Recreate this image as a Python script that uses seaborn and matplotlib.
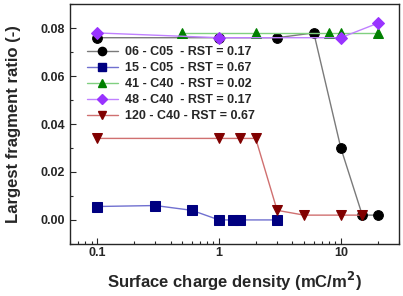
import matplotlib
matplotlib.use("Agg")
import matplotlib.pyplot as plt
import seaborn as sns
import pandas as pd

sns.set_style("ticks")
plt.rcParams['font.family'] = ['Liberation Sans', 'DejaVu Sans']
plt.rcParams['font.weight'] = 'bold'

labels = ["06 - C05  - RST = 0.17", "15 - C05  - RST = 0.67", "41 - C40  - RST = 0.02",
          "48 - C40  - RST = 0.17", "120 - C40 - RST = 0.67"]
x_06 = [0.1, 1, 3, 6, 10, 15, 20]
y_06 = [0.076, 0.076, 0.076, 0.078, 0.030, 0.002, 0.002]
x_15 = [0.1, 0.3, 0.6, 1, 1.3, 1.5, 3]
y_15 = [0.0056, 0.006, 0.004, 0.0, 0.0, 0.0, 0.0]
x_41 = [0.5, 2, 8, 10, 20]
y_41 = [0.078, 0.078, 0.078, 0.078, 0.078]
x_48 = [0.1, 1, 10, 20]
y_48 = [0.078, 0.076, 0.076, 0.082]
x_120 = [0.1, 1, 1.5, 2, 3, 5, 10, 15]
y_120 = [0.034, 0.034, 0.034, 0.034, 0.004, 0.002, 0.002, 0.002]

series = [(x_06, y_06), (x_15, y_15), (x_41, y_41), (x_48, y_48), (x_120, y_120)]
mcolors = ["#000000", "#000080", "#008000", "#9933FF", "#800000"]
lcolors = ["#7a7a7a", "#7070d0", "#80d080", "#c080ff", "#d07070"]
markers = ["o", "s", "^", "D", "v"]
msizes = [7, 6.5, 7.5, 6.5, 7.5]

fig = plt.figure(figsize=(4.03, 2.96), dpi=100)
ax = fig.add_axes([0.174, 0.176, 0.816, 0.81])

handles = []
for (xs, ys), lab, mc, lc, mk, ms in zip(series, labels, mcolors, lcolors, markers, msizes):
    df = pd.DataFrame({"x": xs, "y": ys})
    sns.lineplot(data=df, x="x", y="y", ax=ax, sort=False, color=lc, lw=1.0,
                 marker=mk, markersize=ms, markerfacecolor=mc, markeredgecolor=mc,
                 legend=False)
    h, = ax.plot([], [], color=lc, lw=1.0, marker=mk, markersize=ms*0.85,
                 markerfacecolor=mc, markeredgecolor=mc)
    handles.append(h)

ax.set_xscale("log")
ax.set_xlim(0.06, 30)
ax.set_ylim(-0.01, 0.09)
ax.set_yticks([0.0, 0.02, 0.04, 0.06, 0.08])
ax.set_yticks([-0.01, 0.01, 0.03, 0.05, 0.07, 0.09], minor=True)
ax.set_xticks([0.1, 1, 10])
ax.set_xticklabels(["0.1", "1", "10"])
ax.yaxis.set_major_formatter(matplotlib.ticker.FormatStrFormatter('%.2f'))
ax.tick_params(direction="in", which="both", labelsize=9, width=0.8)
ax.tick_params(which="major", length=4)
ax.tick_params(which="minor", length=2)
ax.tick_params(axis="x", which="both", pad=2)
for sp in ax.spines.values():
    sp.set_visible(True)
    sp.set_linewidth(1.0)
for t in ax.get_xticklabels() + ax.get_yticklabels():
    t.set_fontweight("bold")

ax.set_xlabel("Surface charge density (mC/m$^\\mathbf{2}$)", fontsize=12, fontweight="bold", labelpad=8)
ax.set_ylabel("Largest fragment ratio (-)", fontsize=12, fontweight="bold", labelpad=14)

leg = ax.legend(handles, labels, loc="upper left", bbox_to_anchor=(0.035, 0.845), frameon=False,
                fontsize=9, handlelength=2.5, handletextpad=0.6, labelspacing=0.32,
                borderaxespad=0)
for t in leg.get_texts():
    t.set_fontweight("bold")

fig.savefig("out.png", dpi=100)
